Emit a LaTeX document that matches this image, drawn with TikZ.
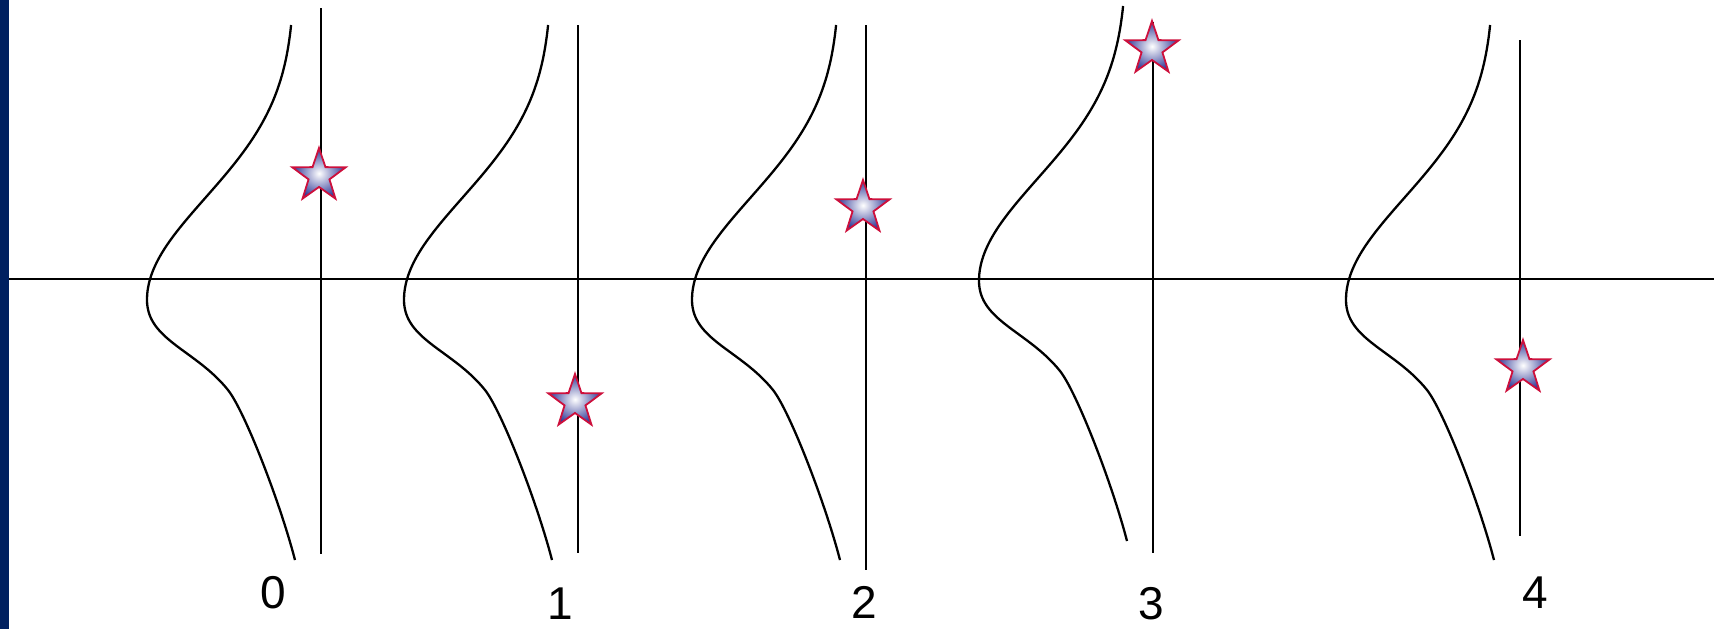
\documentclass[tikz,border=0pt]{standalone}
\usepackage{fontspec}
\setmainfont{Liberation Sans}
\usetikzlibrary{shapes.geometric}
\definecolor{barblue}{RGB}{0,32,96}
\definecolor{starblue}{RGB}{45,55,150}
\definecolor{starred}{RGB}{205,16,60}

\begin{document}
\begin{tikzpicture}[x=1pt, y=-1pt, line width=2.3pt,
  curve/.style={line width=2.3pt, line join=round},
  starmark/.style={star, star points=5, star point ratio=2.55, minimum size=56pt, inner sep=0pt,
    draw=starred, line width=1.8pt, inner color=white, outer color=starblue},
  digit/.style={inner sep=0pt, font=\fontsize{46}{50}\selectfont}]
\useasboundingbox (0,0) rectangle (1714,629);
\fill[barblue] (0,0) rectangle (9,629);
\coordinate (ax0) at (9,279);
\coordinate (ax1) at (1714,279);
\draw[line width=2.5pt] (ax0) -- (ax1);
\foreach \i/\vx/\tp/\bt/\dy in {0/321/8/554/0, 1/578/25/553/0, 2/866/25/570/0, 3/1153/22/553/-19, 4/1520/40/536/0} {
  \coordinate (t\i) at (\vx,\tp);
  \coordinate (b\i) at (\vx,\bt);
  \draw (t\i) -- (b\i);
  \draw[curve, shift={(\vx,\dy)}]
    plot[domain=25:300, samples=45, smooth] ({-26-148*exp(-0.5*((\x-300)/102)*((\x-300)/102))}, \x)
    .. controls (-174,340) and (-125,350) .. (-93,390)
    .. controls (-77,410) and (-41.6,500) .. (-26,560);
}
\node[starmark] (s0) at (319,176) {};
\node[starmark] (s1) at (575,402) {};
\node[starmark] (s2) at (863,208) {};
\node[starmark] (s3) at (1152,49) {};
\node[starmark] (s4) at (1523,368) {};
\node[digit] (l0) at (273,593) {0};
\node[digit] (l1) at (560,604) {1};
\node[digit] (l2) at (864,602) {2};
\node[digit] (l3) at (1151,604) {3};
\node[digit] (l4) at (1535,593) {4};
\end{tikzpicture}
\end{document}
